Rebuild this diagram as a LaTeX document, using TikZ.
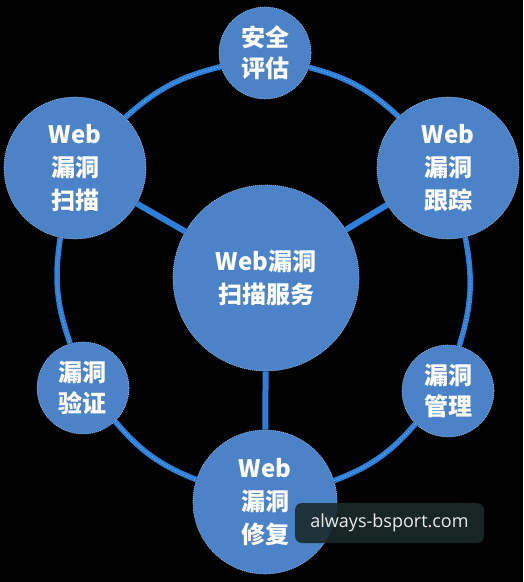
\documentclass[tikz,border=0pt]{standalone}
\usepackage{fontspec}
\newfontfamily\cjk{Noto Sans CJK SC}
\newfontfamily\wmfont{Open Sans}
\definecolor{nodeblue}{HTML}{4C82C8}
\definecolor{ringblue}{HTML}{2C80DA}
\definecolor{edgelight}{HTML}{9DBDE8}
\definecolor{wmbg}{HTML}{1B2A2A}
\tikzset{
  bub/.style={circle, fill=nodeblue, draw=edgelight, line width=0.6pt,
    dash pattern=on 1pt off 1pt, text=white, align=center, inner sep=0pt,
    font=\cjk\bfseries\fontsize{24}{33}\selectfont},
  smallbub/.style={bub, font=\cjk\bfseries\fontsize{24}{31}\selectfont},
  spoke/.style={ringblue, line width=6pt},
  ring/.style={ringblue, line width=5.5pt},
  ringtex/.style={white!70!ringblue, line width=1pt, dash pattern=on 0.8pt off 2.2pt, opacity=0.6},
}
\begin{document}
\begin{tikzpicture}[x=1pt,y=1pt]
\fill[black] (0,0) rectangle (523,-582);
\useasboundingbox (0,0) rectangle (523,-582);
\node[bub, minimum size=186pt] (c) at (266,-278) {Web漏洞\\扫描服务};
\node[bub, minimum size=142pt] (tl) at (75,-168) {Web\\漏洞\\扫描};
\node[bub, minimum size=142pt] (tr) at (448,-168) {Web\\漏洞\\跟踪};
\node[smallbub, minimum size=92pt] (top) at (265,-53) {安全\\评估};
\node[smallbub, minimum size=92pt] (ll) at (83,-388) {漏洞\\验证};
\node[smallbub, minimum size=92pt] (lr) at (448,-391) {漏洞\\管理};
\node[bub, minimum size=144pt] (bot) at (265,-502) {Web\\漏洞\\修复};
\draw[spoke] (c) -- (tl);
\draw[spoke] (c) -- (tr);
\draw[spoke] (c) -- (bot);
\foreach \a/\b in {top/tl, tl/ll, ll/bot, bot/lr, lr/tr, tr/top}{
  \draw[ring] (\a) to[bend right=14] (\b);
  \draw[ringtex] (\a) to[bend right=14] (\b);
}
\node[fill=wmbg, fill opacity=0.9, text opacity=1, text=white!92!black,
  rounded corners=7pt, minimum width=189pt, minimum height=40pt,
  font=\wmfont\fontsize{18}{20}\selectfont] (wm) at (389.5,-523) {always-bsport.com};
\end{tikzpicture}
\end{document}
